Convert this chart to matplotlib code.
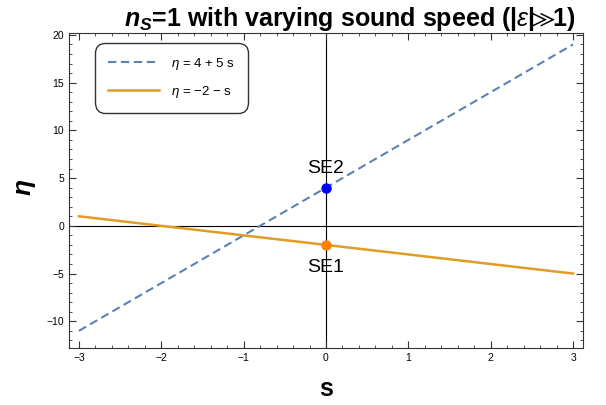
import numpy as np
import matplotlib.pyplot as plt
from matplotlib.ticker import MultipleLocator

plt.rcParams['font.family'] = ['Liberation Sans', 'DejaVu Sans']
plt.rcParams['mathtext.fontset'] = 'custom'
plt.rcParams['mathtext.rm'] = 'Liberation Sans'
plt.rcParams['mathtext.it'] = 'Liberation Sans:italic'
plt.rcParams['mathtext.bf'] = 'Liberation Sans:bold:italic'
plt.rcParams['mathtext.fallback'] = 'stixsans'

# datos
s = [-3, 3]
eta1 = [4 + 5 * v for v in s]   # eta = 4 + 5 s
eta2 = [-2 - v for v in s]      # eta = -2 - s
puntos_s = [0, 0]
puntos_eta = [4, -2]
etiquetas = ['SE2', 'SE1']

azul = '#5E81B5'
naranja = '#E19C24'

fig = plt.figure(figsize=(6.06, 4.05), dpi=100)
ax = fig.add_axes([0.1139, 0.1407, 0.8481, 0.7778])

ax.axhline(0, color='black', lw=0.8, zorder=1)
ax.axvline(0, color='black', lw=0.8, zorder=1)

ax.plot(s, eta1, color=azul, lw=1.5, ls=(0, (4, 2.2)), label=r'$\eta$ = 4 + 5 s', zorder=2)
ax.plot(s, eta2, color=naranja, lw=1.8, label=r'$\eta$ = $-$2 $-$ s', zorder=2)

ax.plot(puntos_s[0], puntos_eta[0], 'o', color='#0000FF', ms=6.5, zorder=3)
ax.plot(puntos_s[1], puntos_eta[1], 'o', color='#FF8000', ms=6.5, zorder=3)
ax.text(0, puntos_eta[0] + 1.1, etiquetas[0], ha='center', va='bottom', fontsize=14)
ax.text(0, puntos_eta[1] - 1.5, etiquetas[1], ha='center', va='top', fontsize=14)

ax.set_xlim(-3.12, 3.12)
ax.set_ylim(-12.8, 20.2)
ax.xaxis.set_major_locator(MultipleLocator(1))
ax.xaxis.set_minor_locator(MultipleLocator(0.2))
ax.yaxis.set_major_locator(MultipleLocator(5))
ax.yaxis.set_minor_locator(MultipleLocator(1))
ax.tick_params(which='both', direction='in', top=True, right=True, labelsize=7.5, color='#333333')
ax.tick_params(which='major', length=5)
ax.tick_params(which='minor', length=2.5)
for sp in ax.spines.values():
    sp.set_color('#333333')
    sp.set_linewidth(0.8)

ax.set_xlabel('s', fontsize=18, fontweight='bold', labelpad=10)
ax.set_ylabel('η', fontsize=19, fontweight='bold', style='italic')
ax.yaxis.set_label_coords(-0.066, 0.51)
ax.set_title(r'$\mathbf{n_S}$=1 with varying sound speed (|$\varepsilon$|$\!\!\gg\!\!$1)',
             fontsize=18, fontweight='bold', pad=3, x=0.546)

leg = ax.legend(loc='upper left', bbox_to_anchor=(0.037, 0.99), fontsize=9.5, frameon=True,
                fancybox=True, edgecolor='black', handlelength=3.9, borderpad=1.0,
                labelspacing=0.9, handletextpad=0.9)
leg.get_frame().set_linewidth(1.0)
leg.get_frame().set_boxstyle('round', pad=0, rounding_size=0.8)

fig.savefig('out.png', dpi=100)
